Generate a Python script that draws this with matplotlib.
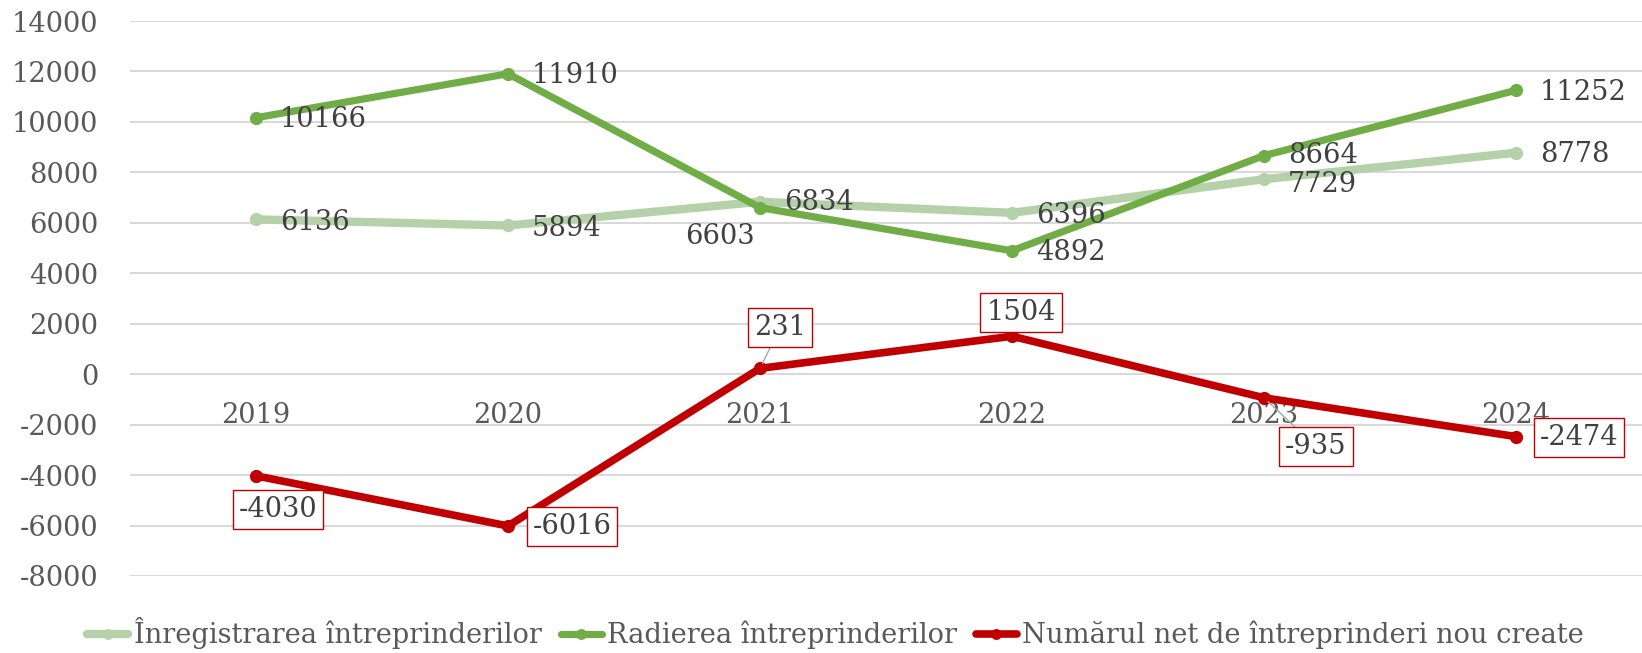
import matplotlib
matplotlib.use("Agg")
import matplotlib.pyplot as plt

years = ["2019", "2020", "2021", "2022", "2023", "2024"]
inregistrare = [6136, 5894, 6834, 6396, 7729, 8778]
radiere = [10166, 11910, 6603, 4892, 8664, 11252]
net_create = [-4030, -6016, 231, 1504, -935, -2474]

series_names = ["Înregistrarea întreprinderilor",
                "Radierea întreprinderilor",
                "Numărul net de întreprinderi nou create"]

# label offsets in pixels (dx, dy) relative to the point
reg_offsets = [(24, -3), (24, -3), (24, -1), (24, -3), (24, -5), (24, -2)]
rad_offsets = [(24, -2), (24, -2), (-40, -29), (24, -2), (24, 0), (24, -2)]
net_offsets = [(22, -34), (64, -1), (20, 41), (9, 24), (52, -49), (63, -1)]
net_leader = [False, False, True, False, True, False]

plt.rcParams["font.family"] = ["DejaVu Serif"]
plt.rcParams["axes.unicode_minus"] = False
FS = 19.6
TXT = "#404040"
AX = "#595959"

fig = plt.figure(figsize=(16.42, 6.53), dpi=100)
ax = fig.add_axes([130 / 1642, 1 - 576 / 653, 1512 / 1642, 555 / 653])

x = list(range(len(years)))
l1, = ax.plot(x, inregistrare, color="#B4D1A9", lw=6, marker="o", ms=8.5,
              solid_capstyle="round", zorder=3)
l2, = ax.plot(x, radiere, color="#70AD47", lw=5.2, marker="o", ms=8.5,
              solid_capstyle="round", zorder=4)
l3, = ax.plot(x, net_create, color="#C00000", lw=5.5, marker="o", ms=8.5,
              solid_capstyle="round", zorder=5)

for xi, v, (dx, dy) in zip(x, inregistrare, reg_offsets):
    ax.annotate(str(v), (xi, v), xytext=(dx, dy), textcoords="offset pixels",
                ha="left", va="center", fontsize=FS, color=TXT, zorder=6)

for xi, v, (dx, dy) in zip(x, radiere, rad_offsets):
    ha = "left" if dx > 0 else "center"
    ax.annotate(str(v), (xi, v), xytext=(dx, dy), textcoords="offset pixels",
                ha=ha, va="center", fontsize=FS, color=TXT, zorder=6)

for xi, v, (dx, dy), lead in zip(x, net_create, net_offsets, net_leader):
    arrow = dict(arrowstyle="-", color="#A6A6A6", lw=1, shrinkA=0, shrinkB=4) if lead else None
    ax.annotate(str(v), (xi, v), xytext=(dx, dy), textcoords="offset pixels",
                ha="center", va="center", fontsize=FS, color=TXT, zorder=6,
                bbox=dict(boxstyle="square,pad=0.22", fc="white", ec="#C00000", lw=1),
                arrowprops=arrow)

ax.set_xlim(-0.5, len(years) - 0.5)
ax.set_ylim(-8000, 14000)
ax.set_yticks(range(-8000, 14001, 2000))
ax.set_xticks(x)
ax.set_xticklabels(years)
ax.grid(axis="y", color="#D9D9D9", lw=1.5)
ax.set_axisbelow(True)
for s in ["top", "right", "left"]:
    ax.spines[s].set_visible(False)
ax.spines["bottom"].set_position(("data", 0))
ax.spines["bottom"].set_visible(False)
ax.tick_params(axis="both", length=0, labelsize=FS, labelcolor=AX)
ax.tick_params(axis="y", pad=23)
ax.tick_params(axis="x", pad=20)

fig.legend([l1, l2, l3], series_names, loc="center", bbox_to_anchor=(0.509, 0.03),
           ncol=3, frameon=False, fontsize=FS, labelcolor=AX,
           handlelength=1.5, handletextpad=0.2, columnspacing=0.7, markerscale=0.8)

fig.savefig("out.png", dpi=100)
